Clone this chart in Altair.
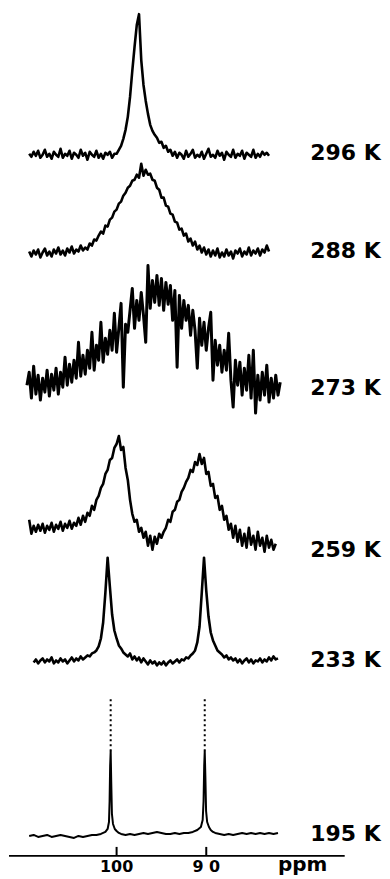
import altair as alt
import pandas as pd

# ---- data -----------------------------------------------------------------
TEMPS = ["296 K", "288 K", "273 K", "259 K", "233 K", "195 K"]
# vertical offset of each trace's baseline (stacked display units)
OFFSETS = [703, 604, 467, 305, 194, 20]

STEP = 0.25

START_296 = 109.75
I_296 = [1, -2, 3, -1, 4, -3, 0, 5, -2, 1, -4, 3, 0, -2, 6, -3, 1, -1, 4, -4,
         2, 0, -3, 5, -1, 2, -5, 3, 0, -2, 4, -3, 1, -4, 2, 0, 3, -3, 1,
         1, 5, 9, 16, 25, 38, 58, 84, 108, 130, 141, 95, 70, 54, 41, 30, 24, 20, 17, 12,
         13, 7, 9, 3, 5,
         -1, 3, -3, 2, 0, -4, 4, -2, 1, 5, -3, 0, -2, 3, -4, 1, 6, -2, 0, -3,
         4, -1, 2, -5, 3, 0, -2, 5, -3, 1, -1, 4, -4, 2, 0, -2, 5, -3, 1, -2,
         3, 0, 2, -1]

START_288 = 109.75
I_288 = [2, -3, 3, -1, 4, -4, 1, 5, -2, 2, -3, 4, 0, 6, -1, 3, -2, 5, 1, 7,
         0, 4, 2, 8, 3, 6, 4, 10, 8, 14, 13, 18, 22, 20, 28, 27, 34, 36, 42, 44,
         50, 52, 58, 61, 66, 68, 73, 74, 79, 76, 90, 78, 84, 79, 80, 74, 73, 66, 64, 56,
         56, 48, 47, 40, 39, 32, 31, 24, 25, 18, 20, 12, 15, 8, 12, 4, 8, 1, 6, -1,
         4, -3, 3, -2, 5, -4, 1, -3, 4, -2, 2, -5, 3, 0, 5, -3, 2, -1, 6, -2,
         3, 0, 5, -2, 4, 1, 8, 2]

START_273 = 110.0
I_273 = [5, 18, -8, 24, -4, 15, -10, 12, -2, 20,
         -6, 16, 0, 22, -4, 18, 3, 33, 5, 26,
         8, 30, 12, 48, 14, 35, 16, 40, 22, 58,
         20, 45, 30, 68, 28, 52, 36, 60, 40, 77,
         38, 62, 87, 3, 66, 58, 80, 102, 62, 90,
         70, 98, 75, 48, 125, 82, 110, 88, 115, 85,
         112, 80, 108, 86, 105, 70, 100, 23, 95, 62,
         90, 70, 85, 55, 80, 60, 22, 72, 45, 68,
         40, 62, 78, 10, 50, 25, 45, 18, 40, 20,
         57, 10, -17, 30, 5, 28, -5, 22, 0, 35,
         -8, 40, -23, 15, -10, 18, -5, 25, -12, 12,
         -8, 15, -5, 8]

START_259 = 109.75
I_259 = [32, 18, 26, 20, 27, 21, 28, 19, 26, 22, 29, 20, 27, 23, 30, 21, 28, 24, 31, 23,
         29, 26, 34, 27, 36, 30, 39, 36, 46, 42, 52, 56, 64, 68, 78, 82, 92, 94, 104, 108,
         116, 102, 105, 84, 72, 52, 38, 30, 32, 20, 24, 14, 20, 6, 16, 2, 15, 8, 18, 14,
         20, 24, 32, 30, 40, 42, 50, 52, 60, 64, 70, 74, 82, 80, 90, 87, 98, 88, 94, 78,
         80, 66, 68, 54, 56, 42, 46, 32, 36, 22, 28, 14, 26, 10, 22, 6, 18, 4, 24, 7,
         16, 2, 20, 6, 14, 0, 16, 4, 12, 2, 8]

START_233 = 109.25
I_233 = [0, 3, -1, 2, 4, 0, 3, 1, 5, -1, 2, 0, 4, 1, 3, -1, 2, 5, 1, 4,
         2, 6, 3, 5, 7, 6, 9, 10, 12, 16, 24, 40, 70, 105, 76, 48, 32, 24, 17, 14,
         10, 8, 6, 9, 3, 6, 2, 5, 0, 4, 1, -2, 2, -1, 1, -3, 0, -2, 1, -3,
         0, 2, -1, 1, 3, 0, 3, 2, 5, 4, 7, 9, 12, 20, 36, 70, 105, 72, 46, 30,
         22, 17, 12, 10, 8, 5, 7, 3, 5, 2, 4, 0, 3, -1, 2, 4, 0, 3, -1, 2,
         1, 4, 0, 3, 1, 5, 2, 6, 3, 4]

PPM_195 = [109.75, 109.25, 108.75, 108.25, 107.75, 107.25, 106.75, 106.25, 105.75, 105.25,
           104.75, 104.25, 103.75, 103.25, 102.75, 102.25, 101.75,
           101.25, 101.0, 100.85, 100.78, 100.72, 100.66, 100.6, 100.52, 100.4, 100.2, 100.0,
           99.75, 99.5,
           99.0, 98.5, 98.0, 97.5, 97.0, 96.5, 96.0, 95.5, 95.0, 94.5, 94.0, 93.5, 93.0,
           92.5, 92.0, 91.5, 91.0,
           90.6, 90.4, 90.3, 90.23, 90.17, 90.1, 90.02, 89.9, 89.7, 89.5, 89.25, 89.0,
           88.5, 88.0, 87.5, 87.0, 86.5, 86.0, 85.5, 85.0, 84.5, 84.0, 83.5, 83.0, 82.5, 82.0]
I_195 = [0, 1, -1, 0, 1, -1, 0, 1, 0, -1, -2, 0, -1, 0, 1, 1, 2,
         4, 7, 14, 35, 70, 85, 55, 22, 12, 7, 5, 3, 2,
         1, 2, 1, 2, 3, 2, 3, 4, 3, 2, 2, 3, 2, 3, 3, 4, 6,
         9, 16, 35, 70, 85, 60, 25, 14, 9, 6, 4, 3,
         2, 1, 2, 1, 2, 3, 2, 3, 2, 3, 2, 3, 2, 3]
# the 195 K peaks continue as a faint dotted pen trace above the solid part
DOT_PPM_195 = [100.66, 90.17]
DOT_FROM_195 = [85, 85]
DOT_TOP_195 = [137, 140]

TICKS = [100, 90]
TICK_LABELS = ["100", "9 0"]
AXIS_FROM, AXIS_TO = 112.0, 74.56
LABEL_PPM = 78.4

# ---- build tables ----------------------------------------------------------
rows = []
for t, start, vals in [("296 K", START_296, I_296), ("288 K", START_288, I_288),
                       ("273 K", START_273, I_273), ("259 K", START_259, I_259),
                       ("233 K", START_233, I_233)]:
    off = OFFSETS[TEMPS.index(t)]
    for k, v in enumerate(vals):
        rows.append({"temp": t, "idx": k, "ppm": start - STEP * k, "y": v + off})
off195 = OFFSETS[TEMPS.index("195 K")]
for k, (p, v) in enumerate(zip(PPM_195, I_195)):
    rows.append({"temp": "195 K", "idx": k, "ppm": p, "y": v + off195})
spec = pd.DataFrame(rows)

dots = pd.DataFrame({"ppm": DOT_PPM_195,
                     "y0": [d + off195 for d in DOT_FROM_195],
                     "y1": [d + off195 for d in DOT_TOP_195]})
labels = pd.DataFrame({"temp": TEMPS, "offset": OFFSETS, "ppm": [LABEL_PPM] * len(TEMPS)})
ticks = pd.DataFrame({"ppm": TICKS, "lab": TICK_LABELS, "y0": [0, 0], "y1": [9, 9], "ly": [-16.3, -16.3]})
axis_df = pd.DataFrame({"a": [AXIS_FROM], "b": [AXIS_TO], "y": [0]})
unit_df = pd.DataFrame({"ppm": [82.0], "y": [-14.7], "t": ["ppm"]})

xs = alt.Scale(domain=[70.4, 112], reverse=True, nice=False, zero=False)
ys = alt.Scale(domain=[-14, 849], nice=False, zero=False)

def X(f):
    return alt.X(f, scale=xs, axis=None, title=None)

def Y(f):
    return alt.Y(f, scale=ys, axis=None, title=None)

traces = alt.Chart(spec).transform_filter(
    (alt.datum.temp != "195 K") & (alt.datum.temp != "273 K")).mark_line(
    color="black", strokeWidth=2.6, strokeJoin="round").encode(
    x=X("ppm:Q"), y=Y("y:Q"), detail="temp:N", order="idx:Q")

trace273 = alt.Chart(spec).transform_filter(alt.datum.temp == "273 K").mark_line(
    color="black", strokeWidth=3.0, strokeJoin="round").encode(
    x=X("ppm:Q"), y=Y("y:Q"), order="idx:Q")

trace195 = alt.Chart(spec).transform_filter(alt.datum.temp == "195 K").mark_line(
    color="black", strokeWidth=2.0, strokeJoin="round").encode(
    x=X("ppm:Q"), y=Y("y:Q"), order="idx:Q")

dotted = alt.Chart(dots).mark_rule(color="black", strokeWidth=2.0, strokeDash=[2, 3]).encode(
    x=X("ppm:Q"), y=Y("y0:Q"), y2="y1:Q")

temp_text = alt.Chart(labels).mark_text(
    align="left", baseline="alphabetic", dy=5, font="DejaVu Sans", fontWeight="bold",
    fontSize=22, color="black").encode(x=X("ppm:Q"), y=Y("offset:Q"), text="temp:N")

axis_line = alt.Chart(axis_df).mark_rule(color="black", strokeWidth=1.6).encode(
    x=X("a:Q"), x2="b:Q", y=Y("y:Q"))

tick_marks = alt.Chart(ticks).mark_rule(color="black", strokeWidth=2).encode(
    x=X("ppm:Q"), y=Y("y0:Q"), y2="y1:Q")

tick_text = alt.Chart(ticks).mark_text(
    align="center", baseline="alphabetic", font="DejaVu Sans", fontWeight="bold",
    fontSize=16, color="black").encode(x=X("ppm:Q"), y=Y("ly:Q"), text="lab:N")

unit_text = alt.Chart(unit_df).mark_text(
    align="left", baseline="alphabetic", font="DejaVu Sans", fontWeight="bold",
    fontSize=20, color="black").encode(x=X("ppm:Q"), y=Y("y:Q"), text="t:N")

chart = alt.layer(traces, trace273, trace195, dotted, temp_text, axis_line, tick_marks,
                  tick_text, unit_text).properties(
    width=374, height=863, padding=0, background="white"
).configure_view(stroke=None)

chart.save("out.html", embed_options={"renderer": "svg", "actions": False})
